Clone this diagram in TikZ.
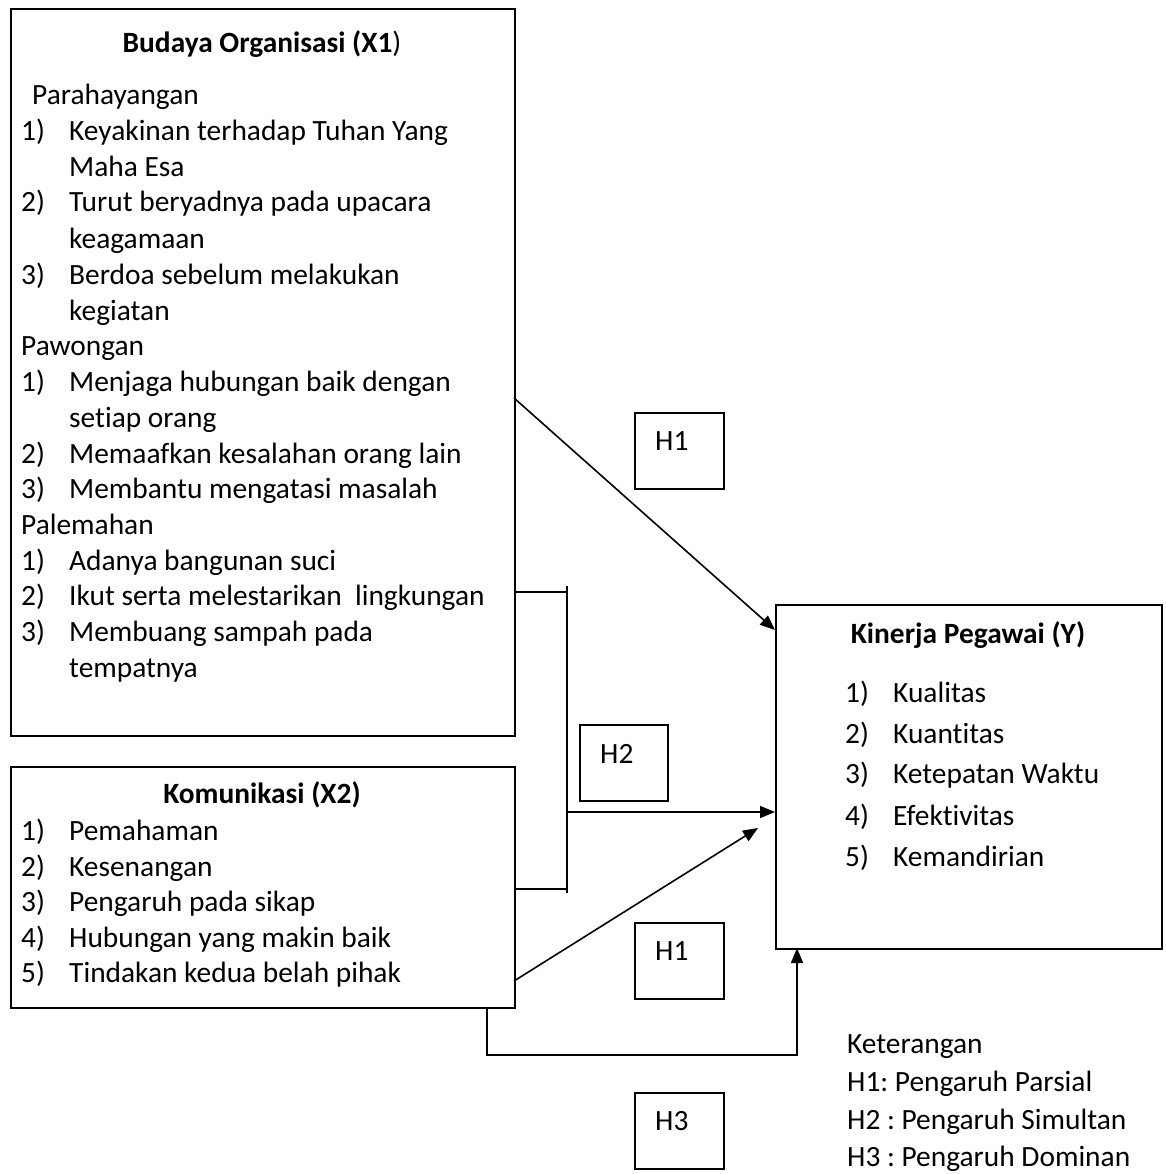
\documentclass[tikz,border=0pt]{standalone}
\usepackage{fontspec}
\setmainfont{Carlito}[Ligatures=NoCommon]
\usetikzlibrary{arrows.meta}
\frenchspacing
\begin{document}
\begin{tikzpicture}[x=1pt,y=-1pt,
  box/.style={draw, line width=2pt, inner sep=0pt, anchor=north west},
  txt/.style={anchor=base west, inner sep=0pt, font=\fontsize{29.4}{34}\selectfont},
  ttl/.style={anchor=base, inner sep=0pt, font=\fontsize{29.4}{34}\selectfont},
  arr/.style={line width=1.6pt, -{Triangle[length=15pt,width=12pt]}},
  ln/.style={line width=1.6pt}]
\useasboundingbox (0,0) rectangle (1165,1174);

% main boxes
\node[box, minimum width=504pt, minimum height=727pt] (bo) at (10,8) {};
\node[box, minimum width=504pt, minimum height=241pt] (ko) at (10,766) {};
\node[box, minimum width=386pt, minimum height=344pt] (kp) at (775,604) {};

% hypothesis boxes
\node[box, minimum width=89pt, minimum height=76pt] (h1a) at (634,412) {};
\node[box, minimum width=88pt, minimum height=76pt] (h2) at (579,724) {};
\node[box, minimum width=89pt, minimum height=76pt] (h1b) at (634,922) {};
\node[box, minimum width=89pt, minimum height=76pt] (h3) at (634,1092) {};
\node[txt] (h1at) at (655,450) {H1};
\node[txt] (h2t) at (600,763) {H2};
\node[txt] (h1bt) at (655,960) {H1};
\node[txt] (h3t) at (655,1130) {H3};

% Budaya Organisasi text
\node[ttl] (bot) at (262,53) {\textbf{Budaya Organisasi (X1})};
\node[txt] (b0) at (32,105) {Parahayangan};
\node[txt] (b1n) at (21,141) {1)}; \node[txt] (b1) at (69,141) {Keyakinan terhadap Tuhan Yang};
\node[txt] (b1b) at (69,177) {Maha Esa};
\node[txt] (b2n) at (21,212) {2)}; \node[txt] (b2) at (69,212) {Turut beryadnya pada upacara};
\node[txt] (b2b) at (69,248) {keagamaan};
\node[txt] (b3n) at (21,284) {3)}; \node[txt] (b3) at (69,284) {Berdoa sebelum melakukan};
\node[txt] (b3b) at (69,320) {kegiatan};
\node[txt] (p0) at (21,355) {Pawongan};
\node[txt] (p1n) at (21,391) {1)}; \node[txt] (p1) at (69,391) {Menjaga hubungan baik dengan};
\node[txt] (p1b) at (69,427) {setiap orang};
\node[txt] (p2n) at (21,463) {2)}; \node[txt] (p2) at (69,463) {Memaafkan kesalahan orang lain};
\node[txt] (p3n) at (21,498) {3)}; \node[txt] (p3) at (69,498) {Membantu mengatasi masalah};
\node[txt] (l0) at (21,534) {Palemahan};
\node[txt] (l1n) at (21,570) {1)}; \node[txt] (l1) at (69,570) {Adanya bangunan suci};
\node[txt] (l2n) at (21,605) {2)}; \node[txt] (l2) at (69,605) {Ikut serta melestarikan~ lingkungan};
\node[txt] (l3n) at (21,641) {3)}; \node[txt] (l3) at (69,641) {Membuang sampah pada};
\node[txt] (l3b) at (69,677) {tempatnya};

% Komunikasi text
\node[ttl] (kot) at (262,803) {\textbf{Komunikasi (X2)}};
\node[txt] (k1n) at (21,840) {1)}; \node[txt] (k1) at (69,840) {Pemahaman};
\node[txt] (k2n) at (21,876) {2)}; \node[txt] (k2) at (69,876) {Kesenangan};
\node[txt] (k3n) at (21,911) {3)}; \node[txt] (k3) at (69,911) {Pengaruh pada sikap};
\node[txt] (k4n) at (21,947) {4)}; \node[txt] (k4) at (69,947) {Hubungan yang makin baik};
\node[txt] (k5n) at (21,982) {5)}; \node[txt] (k5) at (69,982) {Tindakan kedua belah pihak};

% Kinerja text
\node[ttl] (kpt) at (968,643) {\textbf{Kinerja Pegawai (Y)}};
\node[txt] (y1n) at (845,702) {1)}; \node[txt] (y1) at (893,702) {Kualitas};
\node[txt] (y2n) at (845,743) {2)}; \node[txt] (y2) at (893,743) {Kuantitas};
\node[txt] (y3n) at (845,783) {3)}; \node[txt] (y3) at (893,783) {Ketepatan Waktu};
\node[txt] (y4n) at (845,825) {4)}; \node[txt] (y4) at (893,825) {Efektivitas};
\node[txt] (y5n) at (845,866) {5)}; \node[txt] (y5) at (893,866) {Kemandirian};

% legend
\node[txt] (g0) at (847,1053) {Keterangan};
\node[txt] (g1) at (847,1091) {H1: Pengaruh Parsial};
\node[txt] (g2) at (847,1129) {H2 : Pengaruh Simultan};
\node[txt] (g3) at (847,1166) {H3 : Pengaruh Dominan};

% connector points
\coordinate (a1s) at (514,398);
\coordinate (a1e) at (775,630);
\coordinate (bt) at (514,592);
\coordinate (btr) at (567,592);
\coordinate (bb) at (514,889);
\coordinate (bbr) at (567,889);
\coordinate (vt) at (567,586);
\coordinate (vb) at (567,893);
\coordinate (hs) at (567,812);
\coordinate (he) at (775,812);
\coordinate (ds) at (514,981);
\coordinate (de) at (758,828);
\coordinate (ls) at (487,1007);
\coordinate (l1c) at (487,1055);
\coordinate (l2c) at (797,1055);
\coordinate (le) at (797,948);

\draw[arr] (a1s) -- (a1e);
\draw[ln] (bt) -- (btr);
\draw[ln] (bb) -- (bbr);
\draw[ln] (vt) -- (vb);
\draw[arr] (hs) -- (he);
\draw[arr] (ds) -- (de);
\draw[arr] (ls) -- (l1c) -- (l2c) -- (le);
\end{tikzpicture}
\end{document}
